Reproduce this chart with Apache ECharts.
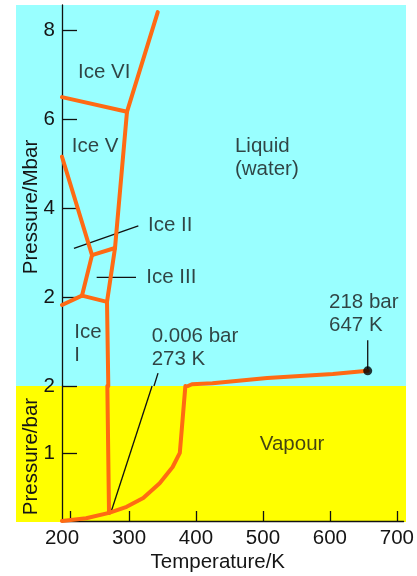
<!DOCTYPE html>
<html>
<head>
<meta charset="utf-8">
<script src="https://cdn.jsdelivr.net/npm/echarts@6/dist/echarts.min.js"></script>
<style>
html, body { margin: 0; padding: 0; background: #fff; }
#chart { width: 417px; height: 576px; }
</style>
</head>
<body>
<div id="chart"></div>
<script>
// 温度 K, 压力: 上半部分 Mbar, 下半部分 bar
var tempLabels = [200, 300, 400, 500, 600, 700];
var tempTicks = [212, 300, 400, 500, 600, 700];
var mbarTicks = [2, 4, 6, 8];
var barTicks = [1, 2];

// 上半部分 (Mbar)
var iceSixLiquid = [[340, 8.40], [295, 6.16]];
var iceSixFive = [[200, 6.49], [295, 6.16]];
var iceFiveLiquid = [[295, 6.16], [277.5, 3.10]];
var iceFiveTwo = [[200, 5.15], [243.9, 2.94]];
var iceFiveThree = [[243.9, 2.94], [277.5, 3.10]];
var iceTwoThree = [[243.9, 2.94], [229.2, 2.03]];
var iceOneTwo = [[200, 1.82], [229.2, 2.03]];
var iceOneThree = [[229.2, 2.03], [265.8, 1.89]];
var iceThreeLiquid = [[265.8, 1.89], [277.5, 3.10]];
var iceOneLiquidTop = [[265.8, 1.89], [267.7, 0]];
var vapourTop = [[384.2, 0], [390, 0.04], [420, 0.06], [500, 0.18], [596, 0.27], [647, 0.34]];
var criticalPoint = [[647, 0.34]];

// 下半部分 (bar)
var iceOneLiquidBottom = [[267.7, 2], [270.2, 0.12]];
var sublimation = [[200, 0], [236, 0.04], [270.2, 0.12]];
var vapourBottom = [[270.2, 0.12], [296.5, 0.21], [321.3, 0.34], [345.8, 0.56], [365.2, 0.80], [375.9, 1.01], [384.2, 2]];

// 引线
var leadIceTwo = [[217.5, 3.09], [311.6, 3.60]];
var leadIceThree = [[250.7, 2.44], [308.2, 2.44]];
var leadTripleBottom = [[273.1, 0.13], [334.5, 2]];
var leadTripleTop = [[334.5, 0], [340.4, 0.29]];
var leadCritical = [[647, 0.34], [647, 1.03]];

// 文字标注 [T, 压力, 文本]
var notesTop = [
    [223.4, 7.04, 'Ice VI'],
    [214.2, 5.39, 'Ice V'],
    [452.9, 5.12, 'Liquid\n(water)'],
    [325.7, 3.60, 'Ice II'],
    [323.3, 2.44, 'Ice III'],
    [218, 0.94, 'Ice\nI'],
    [331.1, 0.86, '0.006 bar\n273 K'],
    [590.4, 1.62, '218 bar\n647 K']
];
var notesBottom = [
    [495.3, 1.13, 'Vapour']
];

var FONT = 'Liberation Sans, Arial, sans-serif';
var FS = 20.5;
var TXT = '#151515';
var ORANGE = '#ff6a13';

function phaseLine(data, grid) {
    return {
        type: 'line', data: data, xAxisIndex: grid, yAxisIndex: grid,
        showSymbol: false, symbol: 'none', clip: false, z: 3,
        lineStyle: { color: ORANGE, width: 4, join: 'round', cap: 'round' }
    };
}
function leadLine(data, grid) {
    return {
        type: 'line', data: data, xAxisIndex: grid, yAxisIndex: grid,
        showSymbol: false, symbol: 'none', clip: false, z: 2,
        lineStyle: { color: '#111', width: 1.3 }
    };
}
function noteSeries(list, grid) {
    return {
        type: 'scatter', xAxisIndex: grid, yAxisIndex: grid, symbolSize: 0, z: 5,
        data: list.map(function (n) { return { value: [n[0], n[1]], name: n[2] }; }),
        label: {
            show: true, position: 'right', distance: 0,
            formatter: function (p) { return p.name; },
            fontFamily: FONT, fontSize: FS, lineHeight: 23, color: TXT
        }
    };
}

var chart = echarts.init(document.getElementById('chart'));
var axisCommon = {
    axisLine: { show: true, onZero: false, lineStyle: { color: '#111', width: 1.3 } },
    splitLine: { show: false },
    nameMoveOverlap: false
};
var option = {
    animation: false,
    backgroundColor: '#fff',
    graphic: [
        { type: 'rect', z: -10, silent: true, shape: { x: 16, y: 5, width: 390, height: 381 }, style: { fill: '#99ffff' } },
        { type: 'rect', z: -10, silent: true, shape: { x: 16, y: 386, width: 390, height: 136 }, style: { fill: '#ffff00' } }
    ],
    grid: [
        { left: 62, top: 5, width: 348.8, height: 381 },
        { left: 62, top: 386, width: 348.8, height: 135 }
    ],
    xAxis: [
        { gridIndex: 0, type: 'value', min: 200, max: 710, show: false },
        Object.assign({}, axisCommon, {
            gridIndex: 1, type: 'value', min: 200, max: 710, interval: 100,
            name: 'Temperature/K', nameLocation: 'middle', nameGap: 31,
            nameTextStyle: { fontFamily: FONT, fontSize: FS, color: TXT, padding: [0, 30, 0, 0] },
            axisTick: { show: true, inside: true, length: 10, customValues: tempTicks, lineStyle: { color: '#111', width: 1.3 } },
            axisLabel: { customValues: tempLabels, fontFamily: FONT, fontSize: FS, color: TXT, margin: 7 }
        })
    ],
    yAxis: [
        Object.assign({}, axisCommon, {
            gridIndex: 0, type: 'value', min: 0, max: 8.56, interval: 2,
            name: 'Pressure/Mbar', nameLocation: 'middle', nameGap: 20,
            nameTextStyle: { fontFamily: FONT, fontSize: FS, color: TXT, padding: [0, 23, 0, 0] },
            axisTick: { show: true, inside: true, length: 15, customValues: mbarTicks, lineStyle: { color: '#111', width: 1.3 } },
            axisLabel: { customValues: mbarTicks, fontFamily: FONT, fontSize: FS, color: TXT, margin: 7 }
        }),
        Object.assign({}, axisCommon, {
            gridIndex: 1, type: 'value', min: 0, max: 2, interval: 1,
            name: 'Pressure/bar', nameLocation: 'middle', nameGap: 20,
            nameTextStyle: { fontFamily: FONT, fontSize: FS, color: TXT, padding: [0, 6, 0, 0] },
            axisTick: { show: true, inside: true, length: 15, customValues: barTicks, lineStyle: { color: '#111', width: 1.3 } },
            axisLabel: { customValues: barTicks, fontFamily: FONT, fontSize: FS, color: TXT, margin: 7 }
        })
    ],
    series: [
        phaseLine(iceSixLiquid, 0),
        phaseLine(iceSixFive, 0),
        phaseLine(iceFiveLiquid, 0),
        phaseLine(iceFiveTwo, 0),
        phaseLine(iceFiveThree, 0),
        phaseLine(iceTwoThree, 0),
        phaseLine(iceOneTwo, 0),
        phaseLine(iceOneThree, 0),
        phaseLine(iceThreeLiquid, 0),
        phaseLine(iceOneLiquidTop, 0),
        phaseLine(vapourTop, 0),
        phaseLine(iceOneLiquidBottom, 1),
        phaseLine(sublimation, 1),
        phaseLine(vapourBottom, 1),
        leadLine(leadIceTwo, 0),
        leadLine(leadIceThree, 0),
        leadLine(leadTripleBottom, 1),
        leadLine(leadTripleTop, 0),
        leadLine(leadCritical, 0),
        {
            type: 'scatter', xAxisIndex: 0, yAxisIndex: 0, data: criticalPoint,
            symbolSize: 9, z: 6, itemStyle: { color: '#000' }
        },
        noteSeries(notesTop, 0),
        noteSeries(notesBottom, 1)
    ]
};
chart.setOption(option);
</script>
</body>
</html>
